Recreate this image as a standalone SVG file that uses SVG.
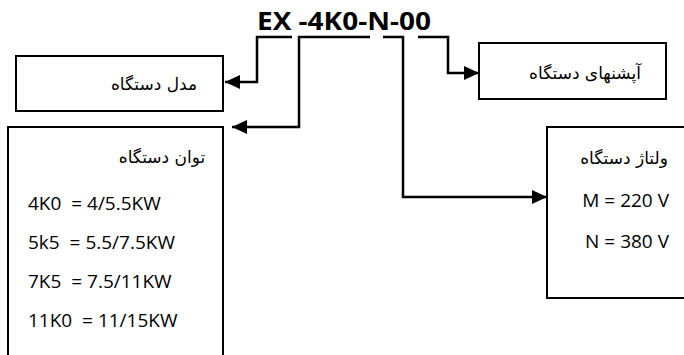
<svg xmlns="http://www.w3.org/2000/svg" width="684" height="355" viewBox="0 0 684 355">
<style>
.box{fill:#fff;stroke:#000;stroke-width:2}
.fa{font-family:"DejaVu Sans",sans-serif;font-size:17px;fill:#000;text-anchor:middle}
.en{font-family:"Open Sans","Liberation Sans",sans-serif;font-size:19px;fill:#000}
.title{font-family:"Open Sans","Liberation Sans",sans-serif;font-size:25px;font-weight:bold;fill:#000}
.conn{fill:none;stroke:#000;stroke-width:2.5}
</style>
<defs>
<marker id="arr" markerWidth="15" markerHeight="14" refX="15" refY="7" orient="auto" markerUnits="userSpaceOnUse">
<path d="M0,0 L15,7 L0,14 Z" fill="#000"/>
</marker>
</defs>
<rect width="684" height="355" fill="#fff"/>
<g id="title"><text class="title" x="257" y="30" textLength="174" lengthAdjust="spacingAndGlyphs">EX -4K0-N-00</text></g>
<g id="model">
<rect class="box" x="16" y="56" width="207" height="55"/>
<text class="fa" x="154" y="90">مدل دستگاه</text>
</g>
<g id="options">
<rect class="box" x="479" y="43" width="187" height="56"/>
<text class="fa" x="585" y="79">آپشنهای دستگاه</text>
</g>
<g id="power">
<path class="box" d="M8,356 V127 H223 V356"/>
<text class="fa" x="162" y="163">توان دستگاه</text>
<text class="en" x="28" y="210" xml:space="preserve">4K0  = 4/5.5KW</text>
<text class="en" x="28" y="249" xml:space="preserve">5k5  = 5.5/7.5KW</text>
<text class="en" x="28" y="288" xml:space="preserve">7K5  = 7.5/11KW</text>
<text class="en" x="28" y="327" xml:space="preserve">11K0  = 11/15KW</text>
</g>
<g id="voltage">
<path class="box" d="M686,127 H547 V298 H686"/>
<text class="fa" x="624" y="164">ولتاژ دستگاه</text>
<text class="en" x="669" y="207" text-anchor="end">M = 220 V</text>
<text class="en" x="669" y="248" text-anchor="end">N = 380 V</text>
</g>
<g id="connectors">
<path class="conn" d="M292,37 H257 V82 H225" marker-end="url(#arr)"/>
<path class="conn" d="M370,37 H299 V127 H232" marker-end="url(#arr)"/>
<path class="conn" d="M383,37 H403 V197 H547" marker-end="url(#arr)"/>
<path class="conn" d="M418,37 H448 V73 H479" marker-end="url(#arr)"/>
</g>
</svg>
